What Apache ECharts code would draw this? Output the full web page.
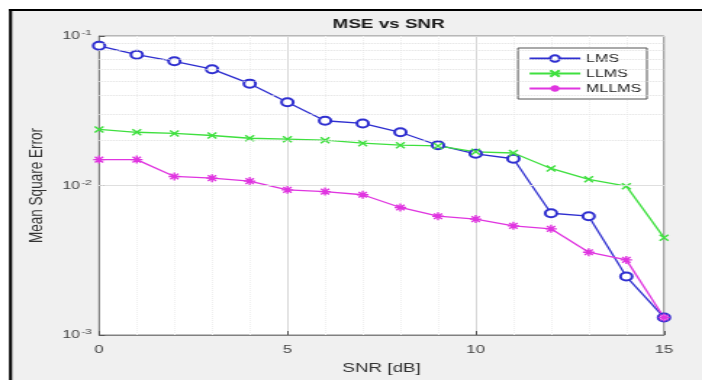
<!DOCTYPE html>
<html><head><meta charset="utf-8">
<script src="https://cdn.jsdelivr.net/npm/echarts@6/dist/echarts.min.js"></script>
<style>html,body{margin:0;padding:0;background:#ffffff;overflow:hidden;}
#c{width:484px;height:380px;transform:scaleX(1.4504);transform-origin:0 0;}</style>
</head><body><div id="c"></div>
<script>
const snr = [0,1,2,3,4,5,6,7,8,9,10,11,12,13,14,15];
const lms   = [0.086,0.075,0.0677,0.060,0.048,0.036,0.0271,0.026,0.0227,0.0186,0.0163,0.0151,0.00652,0.00623,0.00246,0.00131];
const llms  = [0.0237,0.0227,0.0223,0.0216,0.0207,0.0204,0.0201,0.0192,0.0186,0.0184,0.0168,0.0165,0.0130,0.0110,0.0099,0.00448];
const mllms = [0.0149,0.0149,0.0115,0.0112,0.0107,0.00935,0.0091,0.00867,0.00713,0.00623,0.00596,0.00537,0.00513,0.00358,0.00318,0.00131];
const minorY = [0.002,0.003,0.004,0.005,0.006,0.007,0.008,0.009,0.02,0.03,0.04,0.05,0.06,0.07,0.08,0.09];
const seriesNames = ['LMS','LLMS','MLLMS'];
const colors = ['#2f2fd0','#3fe03f','#e035e0'];
const font = 'Liberation Sans, Arial, sans-serif';
const pair = (ys) => snr.map((x,i)=>[x, ys[i]]);
const xPath = 'path://M0,0L10,10M10,0L0,10';
const starPath = 'path://M5,0L5,10M0,5L10,5M1.5,1.5L8.5,8.5M8.5,1.5L1.5,8.5';
const chart = echarts.init(document.getElementById('c'));
chart.setOption({
  backgroundColor: '#f0f0f0',
  animation: false,
  title: {text: 'MSE vs SNR', left: 263, top: 13, textAlign: 'center',
    textStyle: {fontFamily: font, fontSize: 13, fontWeight: 'bold', color: '#1a1a1a'}},
  grid: {left: 68.3, right: 26.2, top: 36, bottom: 37, show: true, backgroundColor: '#ffffff', borderColor: '#808080', borderWidth: 1},
  legend: {orient: 'vertical', right: 38, top: 48, itemWidth: 35, itemHeight: 8, itemGap: 4,
    backgroundColor: '#ffffff', borderColor: '#555', borderWidth: 1, borderRadius: 0, padding: [5, 4, 5, 7],
    textStyle: {fontFamily: font, fontSize: 11, color: '#222', padding: [0,0,0,-1]}, data: seriesNames},
  xAxis: {type: 'value', min: 0, max: 15, interval: 5,
    name: 'SNR [dB]', nameLocation: 'middle', nameGap: 27,
    nameTextStyle: {fontFamily: font, fontSize: 13, color: '#333'},
    axisLine: {onZero: false, lineStyle: {color: '#808080'}},
    axisTick: {inside: true, length: 4, lineStyle: {color: '#555'}},
    axisLabel: {fontFamily: font, fontSize: 11.5, color: '#444', margin: 9},
    splitLine: {show: true, lineStyle: {color: '#d8d8d8', width: 1}},
    minorTick: {show: false, splitNumber: 5},
    minorSplitLine: {show: true, lineStyle: {color: '#efefef', type: 'dotted'}}},
  yAxis: {type: 'log', logBase: 10, min: 0.001, max: 0.1,
    name: 'Mean Square Error', nameLocation: 'middle', nameGap: 33, nameRotate: 90,
    nameTextStyle: {fontFamily: font, fontSize: 13.5, color: '#333'},
    axisLine: {lineStyle: {color: '#808080'}},
    axisTick: {inside: true, length: 4, lineStyle: {color: '#555'}},
    axisLabel: {margin: 5, formatter: v => '{b|10}{s|' + Math.round(Math.log10(v)) + '}',
      rich: {b: {fontFamily: font, fontSize: 11, color: '#444'}, s: {fontFamily: font, fontSize: 8, color: '#444', verticalAlign: 'top', padding: [0,0,6,1]}}},
    splitLine: {show: true, lineStyle: {color: '#d8d8d8'}}},
  graphic: [
    {type: 'rect', z: 100, shape: {x: 0, y: 0, width: 484, height: 9}, style: {fill: '#ffffff'}},
    {type: 'rect', z: 100, shape: {x: 0, y: 0, width: 6.2, height: 380}, style: {fill: '#ffffff'}},
    {type: 'rect', z: 101, shape: {x: 6.2, y: 9, width: 480, height: 2}, style: {fill: '#000'}},
    {type: 'rect', z: 101, shape: {x: 6.2, y: 9, width: 2.1, height: 380}, style: {fill: '#000'}}
  ],
  series: [
    {name: 'grid-minor', type: 'line', data: [], z: 1,
      markLine: {silent: true, symbol: 'none', label: {show: false},
        lineStyle: {color: '#e0e0e0', type: 'dotted', width: 1}, data: minorY.map(v => ({yAxis: v}))}},
    {name: 'LMS', type: 'line', data: pair(lms), symbol: 'emptyCircle', symbolSize: 8, z: 3,
      lineStyle: {color: colors[0], width: 1.3}, itemStyle: {color: colors[0], borderColor: colors[0], borderWidth: 1.2}},
    {name: 'LLMS', type: 'line', data: pair(llms), symbol: xPath, symbolSize: 6, z: 3,
      lineStyle: {color: colors[1], width: 1.3}, itemStyle: {color: colors[1], borderColor: colors[1], borderWidth: 1.4}},
    {name: 'MLLMS', type: 'line', data: pair(mllms), symbol: starPath, symbolSize: 8, z: 3,
      lineStyle: {color: colors[2], width: 1.3}, itemStyle: {color: colors[2], borderColor: colors[2], borderWidth: 1.4}}
  ]
});
</script></body></html>
